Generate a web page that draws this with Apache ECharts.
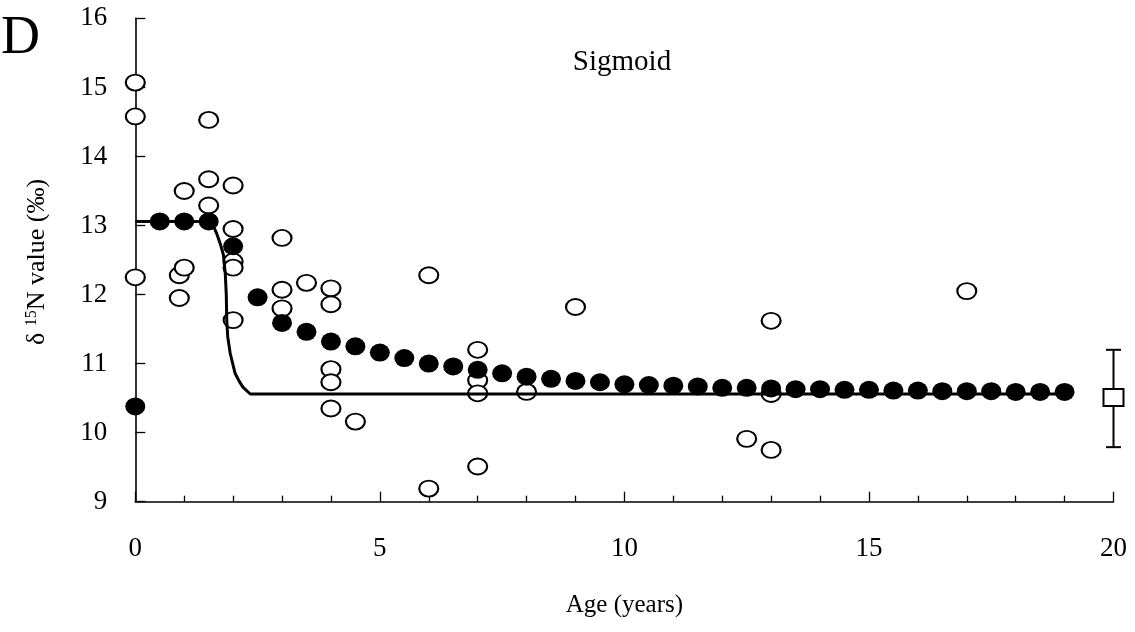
<!DOCTYPE html>
<html>
<head>
<meta charset="utf-8">
<script src="https://cdn.jsdelivr.net/npm/echarts@6/dist/echarts.min.js"></script>
<style>html,body{margin:0;padding:0;background:#fff;}#c{width:1135px;height:632px;}</style>
</head>
<body>
<div id="c"></div>
<script>
// Observed values (open circles): [age, d15N]
var observedPoints = [
  [0,15.07],[0,14.58],[0,12.25],
  [0.9,12.28],[0.9,11.95],[1,13.50],[1,12.39],
  [1.5,14.53],[1.5,13.67],[1.5,13.29],
  [2,13.58],[2,12.95],[2,12.48],[2,12.39],[2,11.63],
  [3,12.82],[3,12.07],[3,11.80],
  [3.5,12.17],
  [4,12.09],[4,11.86],[4,10.92],[4,10.73],[4,10.35],
  [4.5,10.16],
  [6,12.28],[6,9.19],
  [7,11.20],[7,10.76],[7,10.57],[7,9.51],
  [8,10.59],
  [9,11.82],
  [12.5,9.91],
  [13,11.62],[13,10.56],[13,9.75],
  [17,12.05]
];
// Modelled values (filled circles)
var modelAges = [0,0.5,1,1.5,2,2.5,3,3.5,4,4.5,5,5.5,6,6.5,7,7.5,8,8.5,9,9.5,10,10.5,11,11.5,12,12.5,13,13.5,14,14.5,15,15.5,16,16.5,17,17.5,18,18.5,19];
var modelValues = [10.38,13.06,13.06,13.06,12.70,11.96,11.59,11.46,11.32,11.25,11.16,11.08,11.00,10.96,10.91,10.86,10.81,10.78,10.75,10.73,10.70,10.69,10.68,10.67,10.65,10.65,10.64,10.63,10.63,10.62,10.62,10.61,10.61,10.60,10.60,10.60,10.59,10.59,10.59];
// Sigmoid curve
var curvePoints = [[0,13.06],[1.5,13.06],[1.58,13.02],[1.66,12.89],[1.74,12.73],[1.80,12.58],[1.84,12.30],[1.86,12.00],[1.87,11.63],[1.89,11.39],[1.94,11.15],[2.04,10.86],[2.12,10.75],[2.20,10.66],[2.35,10.56],[19,10.56]];
// Reference (x=20): mean with range
var refPoint = [20, 10.51, 9.79, 11.20];
var xTicks = [0,5,10,15,20];
var yTicks = [9,10,11,12,13,14,15,16];

var chart = echarts.init(document.getElementById('c'), null, {renderer:'canvas'});
var FONT = 'Liberation Serif';
var modelData = modelAges.map(function(a,i){return [a, modelValues[i]];});
var option = {
  backgroundColor:'#fff',
  animation:false,
  textStyle:{fontFamily:FONT, color:'#000'},
  grid:{left:135.3, right:21.5, top:18.4, bottom:130.3, containLabel:false},
  xAxis:{
    type:'value', min:xTicks[0], max:xTicks[xTicks.length-1], interval:5,
    axisLine:{show:true, onZero:false, lineStyle:{color:'#000', width:1.6}},
    axisTick:{show:true, inside:true, length:10, lineStyle:{color:'#000', width:1.3}},
    minorTick:{show:true, splitNumber:5, length:6, lineStyle:{color:'#000', width:1.3}},
    axisLabel:{margin:34, fontSize:27, fontFamily:FONT, color:'#000'},
    splitLine:{show:false},
    name:'Age (years)', nameLocation:'middle', nameGap:91,
    nameTextStyle:{fontSize:25, fontFamily:FONT, color:'#000'}
  },
  yAxis:{
    type:'value', min:yTicks[0], max:yTicks[yTicks.length-1], interval:1,
    axisLine:{show:true, onZero:false, lineStyle:{color:'#000', width:1.6}},
    axisTick:{show:true, inside:true, length:10, lineStyle:{color:'#000', width:1.3}},
    axisLabel:{margin:28, fontSize:27, fontFamily:FONT, color:'#000'},
    splitLine:{show:false}
  },
  graphic:[
    {type:'text', left:1, top:12, style:{text:'D', font:'54px "Liberation Serif"', fill:'#000'}},
    {type:'text', x:622, y:62, style:{text:'Sigmoid', font:'29px "Liberation Serif"', fill:'#000', textAlign:'center', textVerticalAlign:'middle'}},
    {type:'text', x:37, y:262, rotation:Math.PI/2,
      style:{text:'δ {sup|15}N value (‰)', font:'26px "Liberation Serif"', fill:'#000', textAlign:'center', textVerticalAlign:'middle',
        rich:{sup:{fontSize:16, fontFamily:FONT, fill:'#000', verticalAlign:'top', padding:[0,0,10,0]}}}}
  ],
  series:[
    {type:'scatter', name:'Observed', data:observedPoints, z:2,
      symbol:'circle', symbolSize:[19,16],
      itemStyle:{color:'#fff', borderColor:'#000', borderWidth:2, opacity:1}},
    {type:'line', name:'Sigmoid', data:curvePoints, z:3, showSymbol:false, symbol:'none',
      lineStyle:{color:'#000', width:3}},
    {type:'scatter', name:'Model', data:modelData, z:4,
      symbol:'circle', symbolSize:[20,18],
      itemStyle:{color:'#000', borderWidth:0, opacity:1}},
    {type:'custom', name:'Reference', z:5, data:[refPoint],
      renderItem:function(params, api){
        var c = api.coord([api.value(0), api.value(1)]);
        var lo = api.coord([api.value(0), api.value(2)]);
        var hi = api.coord([api.value(0), api.value(3)]);
        var cap = 7.5, bw = 10, bh = 8.5;
        var ls = {stroke:'#000', lineWidth:2};
        return {type:'group', children:[
          {type:'line', shape:{x1:c[0], y1:hi[1], x2:c[0], y2:lo[1]}, style:ls},
          {type:'line', shape:{x1:c[0]-cap, y1:hi[1], x2:c[0]+cap, y2:hi[1]}, style:ls},
          {type:'line', shape:{x1:c[0]-cap, y1:lo[1], x2:c[0]+cap, y2:lo[1]}, style:ls},
          {type:'rect', shape:{x:c[0]-bw, y:c[1]-bh, width:2*bw, height:2*bh}, style:{fill:'#fff', stroke:'#000', lineWidth:2}}
        ]};
      }
    }
  ]
};
chart.setOption(option);
</script>
</body>
</html>
